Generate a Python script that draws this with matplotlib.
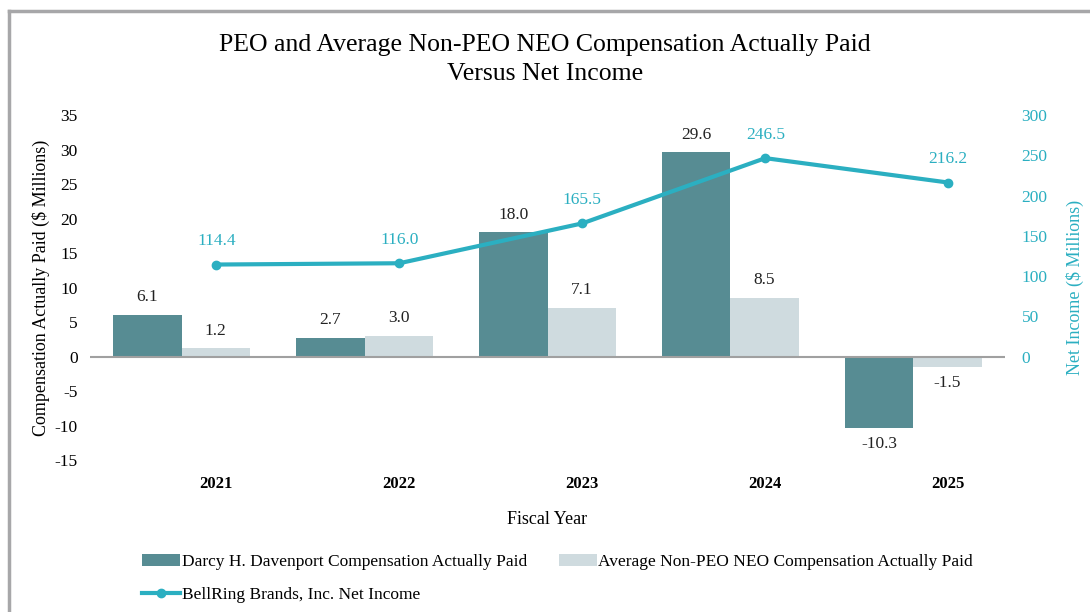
import matplotlib.pyplot as plt
from matplotlib.lines import Line2D
import numpy as np

plt.rcParams['font.family'] = ['Liberation Serif', 'DejaVu Serif']
plt.rcParams['axes.unicode_minus'] = False

# data
years = ['2021', '2022', '2023', '2024', '2025']
peo_cap = [6.1, 2.7, 18.0, 29.6, -10.3]
neo_cap = [1.2, 3.0, 7.1, 8.5, -1.5]
net_income = [114.4, 116.0, 165.5, 246.5, 216.2]

dark = '#578C93'
light = '#CFDBDF'
teal = '#2BAFC1'

fig = plt.figure(figsize=(10.9, 6.12), dpi=100)
ax = fig.add_axes([0.0826, 0.248, 0.8394, 0.564])

x = np.arange(len(years))
w = 0.372
b1 = ax.bar(x - w / 2, peo_cap, w, color=dark, label='Darcy H. Davenport Compensation Actually Paid')
b2 = ax.bar(x + w / 2, neo_cap, w, color=light, label='Average Non-PEO NEO Compensation Actually Paid')

for bars, vals in [(b1, peo_cap), (b2, neo_cap)]:
    for r, v in zip(bars, vals):
        cx = r.get_x() + r.get_width() / 2
        if v >= 0:
            ax.annotate(f'{v:.1f}', (cx, v), xytext=(0, 7), textcoords='offset points',
                        ha='center', va='bottom', fontsize=12.5, color='#222222')
        else:
            ax.annotate(f'{v:.1f}', (cx, v), xytext=(0, -6), textcoords='offset points',
                        ha='center', va='top', fontsize=12.5, color='#222222')

ax.axhline(0, color='#A0A0A0', lw=1.5, zorder=3)
ax.set_xlim(-0.5, 4.5)
ax.set_ylim(-15, 35)
ax.set_yticks(range(-15, 36, 5))
ax.set_xticks(x + 0.19)
ax.set_xticklabels(years, fontweight='bold', fontsize=12)
ax.tick_params(axis='x', length=0, pad=11)
ax.tick_params(axis='y', length=0, labelsize=12.5, pad=9)
for s in ax.spines.values():
    s.set_visible(False)
ax.set_xlabel('Fiscal Year', fontsize=13, labelpad=14)
ax.set_ylabel('Compensation Actually Paid ($ Millions)', fontsize=13, labelpad=3)

ax2 = ax.twinx()
ax2.plot(x + 0.19, net_income, color=teal, lw=3, marker='o', ms=6,
         label='BellRing Brands, Inc. Net Income')
for xi, v in zip(x + 0.19, net_income):
    ax2.annotate(f'{v:.1f}', (xi, v), xytext=(0, 11), textcoords='offset points',
                 ha='center', va='bottom', fontsize=12.5, color=teal)
ax2.set_ylim(-15 * 300 / 35, 300)
ax2.set_yticks(range(0, 301, 50))
ax2.tick_params(axis='y', length=0, labelsize=12.5, labelcolor=teal, pad=12)
for s in ax2.spines.values():
    s.set_visible(False)
ax2.set_ylabel('Net Income ($ Millions)', fontsize=13, color=teal, labelpad=13)

fig.suptitle('PEO and Average Non-PEO NEO Compensation Actually Paid\nVersus Net Income',
             y=0.945, fontsize=18.5, linespacing=1.45)

line_h = Line2D([], [], color=teal, lw=3, marker='o', ms=6)
fig.legend([b1, line_h, b2],
           ['Darcy H. Davenport Compensation Actually Paid',
            'BellRing Brands, Inc. Net Income',
            'Average Non-PEO NEO Compensation Actually Paid'],
           ncol=2, loc='upper left', bbox_to_anchor=(0.124, 0.106), frameon=False,
           fontsize=12.5, handlelength=2.2, handletextpad=0.1, columnspacing=1.8,
           labelspacing=0.95, borderaxespad=0)

# gray frame on left and top
fig.add_artist(Line2D([0.0083, 0.0083], [0, 0.982], color='#A7A7A9', lw=2.5, transform=fig.transFigure))
fig.add_artist(Line2D([0.0083, 1], [0.982, 0.982], color='#A7A7A9', lw=2.5, transform=fig.transFigure))

fig.savefig('out.png', dpi=100)
